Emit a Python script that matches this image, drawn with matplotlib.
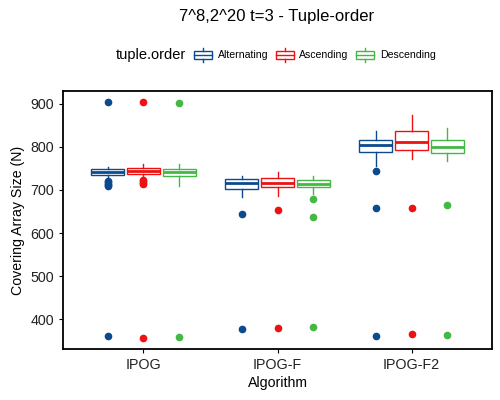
import numpy as np
import matplotlib.pyplot as plt
from matplotlib.patches import Rectangle
from matplotlib.lines import Line2D
from matplotlib.legend_handler import HandlerBase

plt.rcParams['font.family'] = ['Liberation Sans', 'DejaVu Sans']

algorithms = ['IPOG', 'IPOG-F', 'IPOG-F2']
orders = ['Alternating', 'Ascending', 'Descending']
colors = {'Alternating': '#0c4a8e', 'Ascending': '#ee1111', 'Descending': '#44b844'}

# box statistics, one list per tuple order (IPOG, IPOG-F, IPOG-F2)
q1 = {'Alternating': [735, 703, 789],
      'Ascending':   [738, 707, 793],
      'Descending':  [732, 707, 786]}
med = {'Alternating': [742, 717, 805],
       'Ascending':   [745, 717, 811],
       'Descending':  [741, 715, 799]}
q3 = {'Alternating': [749, 725, 817],
      'Ascending':   [752, 728, 838],
      'Descending':  [749, 724, 816]}
whislo = {'Alternating': [731, 683, 756],
          'Ascending':   [733, 685, 773],
          'Descending':  [710, 690, 767]}
whishi = {'Alternating': [754, 733, 836],
          'Ascending':   [761, 741, 874],
          'Descending':  [761, 733, 844]}
fliers = {'Alternating': [[904, 721, 718, 715, 712, 709, 360], [645, 378], [744, 659, 360]],
          'Ascending':   [[904, 723, 720, 717, 713, 357], [654, 379], [658, 365]],
          'Descending':  [[903, 359], [680, 638, 381], [664, 364]]}


class BoxHandler(HandlerBase):
    def create_artists(self, legend, orig_handle, xdescent, ydescent,
                       width, height, fontsize, trans):
        c = orig_handle.get_edgecolor()
        x0, y0 = -xdescent, -ydescent
        cx = x0 + width / 2
        bh = height * 0.6
        by = y0 + (height - bh) / 2
        rect = Rectangle((x0 + width * 0.05, by), width * 0.9, bh,
                         facecolor='white', edgecolor=c, lw=1.0, transform=trans)
        m = Line2D([x0 + width * 0.05, x0 + width * 0.95], [y0 + height / 2] * 2,
                   color=c, lw=1.0, transform=trans)
        w1 = Line2D([cx, cx], [y0, by], color=c, lw=1.0, transform=trans)
        w2 = Line2D([cx, cx], [by + bh, y0 + height], color=c, lw=1.0, transform=trans)
        return [rect, m, w1, w2]


fig = plt.figure(figsize=(5, 4), dpi=100)
ax = fig.add_axes([0.126, 0.127, 0.858, 0.6455])

pos = np.arange(1, len(algorithms) + 1)
dodge = 0.8 / 3
bw = 0.245

for k, o in enumerate(orders):
    c = colors[o]
    stats = []
    for i in range(len(algorithms)):
        stats.append({'q1': q1[o][i], 'med': med[o][i], 'q3': q3[o][i],
                      'whislo': whislo[o][i], 'whishi': whishi[o][i],
                      'fliers': fliers[o][i]})
    ax.bxp(stats, positions=pos + (k - 1) * dodge, widths=bw, patch_artist=True,
           showcaps=False,
           boxprops=dict(facecolor='white', edgecolor=c, lw=1.0),
           medianprops=dict(color=c, lw=2.0),
           whiskerprops=dict(color=c, lw=1.0),
           flierprops=dict(marker='o', markerfacecolor=c, markeredgecolor=c,
                           markersize=4.5, linestyle='none'))

ax.set_xlim(0.4, 3.6)
ax.set_ylim(330, 930)
ax.set_xticks(pos)
ax.set_xticklabels(algorithms)
ax.set_yticks([400, 500, 600, 700, 800, 900])
for s in ax.spines.values():
    s.set_color('black')
    s.set_linewidth(1.3)
ax.tick_params(direction='out', length=3, width=0.8, colors='black',
               labelsize=10.3, labelcolor='#222222')
ax.set_xlabel('Algorithm', fontsize=10.2, labelpad=3)
ax.set_ylabel('Covering Array Size (N)', fontsize=10.2, labelpad=4)

fig.text(0.553, 1 - 16 / 400, '7^8,2^20 t=3 - Tuple-order', ha='center', va='center',
         fontsize=12)

fig.text(116 / 500, 1 - 55 / 400, 'tuple.order', ha='left', va='center', fontsize=10.5)
handles = [Rectangle((0, 0), 1, 1, facecolor='white', edgecolor=colors[o]) for o in orders]
fig.legend(handles, orders, loc='center left', bbox_to_anchor=(193 / 500, 1 - 55 / 400),
           ncol=3, frameon=False, fontsize=7.6, handlelength=1.9, handleheight=1.8,
           handletextpad=0.45, columnspacing=0.6, borderpad=0, borderaxespad=0,
           handler_map={Rectangle: BoxHandler()})

plt.savefig('out.png', dpi=100)
